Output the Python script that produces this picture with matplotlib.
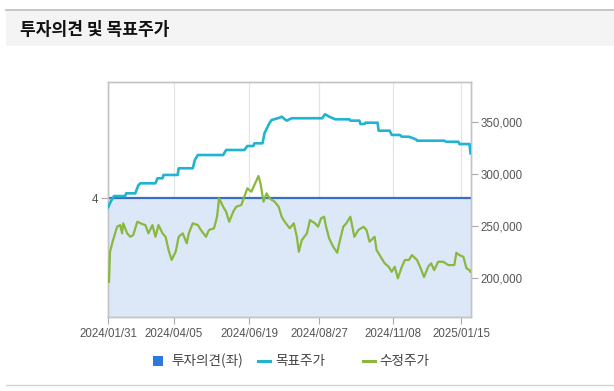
import matplotlib
matplotlib.use("Agg")
import matplotlib.pyplot as plt
from matplotlib.patches import Rectangle
from matplotlib.lines import Line2D
import pandas as pd

# ---------------- data ----------------
title = "투자의견 및 목표주가"
legend_labels = ["투자의견(좌)", "목표주가", "수정주가"]

opinion_dates = ["2024-01-31", "2025-01-24"]
opinion_values = [4, 4]

target_dates = [
    "2024-01-31", "2024-02-03", "2024-02-06", "2024-02-17", "2024-02-18", "2024-02-27",
    "2024-03-01", "2024-03-03", "2024-03-18", "2024-03-20", "2024-03-25", "2024-03-26",
    "2024-04-09", "2024-04-10", "2024-04-24", "2024-04-26", "2024-04-29", "2024-05-24",
    "2024-05-27", "2024-06-14", "2024-06-17", "2024-06-23", "2024-06-24", "2024-07-02",
    "2024-07-04", "2024-07-09", "2024-07-11", "2024-07-19", "2024-07-21", "2024-07-26",
    "2024-07-31", "2024-08-30", "2024-09-02", "2024-09-06", "2024-09-12", "2024-09-26",
    "2024-09-27", "2024-10-06", "2024-10-07", "2024-10-11", "2024-10-12", "2024-10-24",
    "2024-10-25", "2024-11-05", "2024-11-07", "2024-11-15", "2024-11-17", "2024-11-24",
    "2024-12-01", "2024-12-02", "2024-12-29", "2024-12-31", "2025-01-12", "2025-01-13",
    "2025-01-23", "2025-01-24",
]
target_values = [
    268000, 274000, 278800, 278800, 281400, 281400,
    289000, 291000, 291000, 295800, 295800, 299000,
    299000, 305400, 305400, 313300, 318100, 318100,
    322900, 322900, 326700, 326700, 329300, 329300,
    339000, 348800, 351600, 353800, 354800, 351000,
    353300, 353300, 357100, 354800, 352300, 352300,
    351000, 351000, 347800, 347800, 349000, 349000,
    341400, 341400, 337300, 337300, 335600, 335600,
    333100, 331800, 331800, 330800, 330800, 328600,
    328600, 319700,
]

price_dates = [
    "2024-02-01", "2024-02-02", "2024-02-05", "2024-02-09", "2024-02-12", "2024-02-14",
    "2024-02-15", "2024-02-19", "2024-02-22", "2024-02-25", "2024-02-29", "2024-03-05",
    "2024-03-08", "2024-03-11", "2024-03-15", "2024-03-18", "2024-03-21", "2024-03-25",
    "2024-03-28", "2024-03-31", "2024-04-03", "2024-04-07", "2024-04-10", "2024-04-14",
    "2024-04-18", "2024-04-20", "2024-04-24", "2024-04-29", "2024-05-02", "2024-05-07",
    "2024-05-10", "2024-05-15", "2024-05-18", "2024-05-20", "2024-05-24", "2024-05-27",
    "2024-05-30", "2024-06-03", "2024-06-06", "2024-06-11", "2024-06-14", "2024-06-17",
    "2024-06-21", "2024-06-24", "2024-06-28", "2024-06-30", "2024-07-03", "2024-07-06",
    "2024-07-09", "2024-07-14", "2024-07-18", "2024-07-21", "2024-07-24", "2024-07-29",
    "2024-08-02", "2024-08-05", "2024-08-07", "2024-08-10", "2024-08-15", "2024-08-18",
    "2024-08-23", "2024-08-26", "2024-08-29", "2024-09-01", "2024-09-03", "2024-09-06",
    "2024-09-10", "2024-09-14", "2024-09-16", "2024-09-20", "2024-09-23", "2024-09-27",
    "2024-10-01", "2024-10-05", "2024-10-10", "2024-10-13", "2024-10-16", "2024-10-21",
    "2024-10-23", "2024-10-28", "2024-10-31", "2024-11-04", "2024-11-07", "2024-11-10",
    "2024-11-13", "2024-11-17", "2024-11-20", "2024-11-24", "2024-11-27", "2024-12-02",
    "2024-12-05", "2024-12-09", "2024-12-13", "2024-12-16", "2024-12-19", "2024-12-23",
    "2024-12-28", "2025-01-02", "2025-01-08", "2025-01-10", "2025-01-13", "2025-01-17",
    "2025-01-20", "2025-01-23", "2025-01-24",
]
price_values = [
    196700, 225500, 236700, 249400, 251000, 243100,
    252700, 243100, 239800, 241500, 254200, 252000,
    251000, 243100, 251000, 239800, 251000, 243100,
    239800, 227100, 217600, 225500, 239800, 243100,
    233500, 243100, 252700, 251000, 246300, 239800,
    246300, 247900, 259000, 276600, 268600, 263800,
    254200, 263800, 268600, 270200, 278200, 286200,
    283000, 289400, 298000, 291000, 273400, 281400,
    276600, 273400, 268600, 259000, 254200, 247900,
    252700, 239800, 225500, 236700, 243100, 255800,
    252700, 249400, 257500, 259000, 249400, 238300,
    230300, 224500, 233500, 249400, 252700, 259000,
    239800, 246300, 249400, 246300, 235100, 239800,
    227100, 219100, 214400, 211100, 206300, 211100,
    200000, 211100, 217600, 217600, 222300, 217600,
    211100, 201300, 211100, 214400, 207900, 215900,
    215900, 212700, 212700, 224500, 222300, 220600,
    209600, 207900, 206300,
]

xtick_dates = ["2024-01-31", "2024-04-05", "2024-06-19", "2024-08-27", "2024-11-08", "2025-01-15"]
price_ticks = [200000, 250000, 300000, 350000]
opinion_ticks = [4]

# ---------------- figure ----------------
W, H = 614, 391
fig = plt.figure(figsize=(W / 100, H / 100), dpi=100)
fig.patch.set_facecolor("white")

KR = ["Noto Sans CJK KR", "DejaVu Sans"]
NUM = ["Liberation Sans", "DejaVu Sans"]

def px(x, y):
    return x / W, 1 - y / H

# header band and rules
fig.patches.append(Rectangle(px(6, 46), (W - 6) / W, 36 / H, transform=fig.transFigure,
                             facecolor="#f4f4f4", edgecolor="none", zorder=0))
fig.lines.append(Line2D([6 / W, 1], [1 - 9.5 / H] * 2, transform=fig.transFigure,
                        color="#bdbdbd", lw=1.2))
fig.lines.append(Line2D([6 / W, 1], [1 - 385 / H] * 2, transform=fig.transFigure,
                        color="#d4d4d4", lw=1.0))
tx, ty = px(20, 30)
fig.text(tx, ty, title, family=KR, fontsize=12.3, fontweight="bold", color="#111111",
         va="center", ha="left")

# axes
left, right, top, bottom = 108, 470.5, 82, 317
ax = fig.add_axes([left / W, 1 - bottom / H, (right - left) / W, (bottom - top) / H])
ax2 = ax.twinx()

od = pd.to_datetime(opinion_dates)
td = pd.to_datetime(target_dates)
pdts = pd.to_datetime(price_dates)

ax.fill_between(od, 0, opinion_values, color="#dce8f8", lw=0, zorder=1)
ax.plot(od, opinion_values, color="#3a6ec2", lw=1.6, zorder=3, solid_capstyle="butt")
ax.set_ylim(0, 7.9)
ax.set_xlim(pd.Timestamp("2024-01-31"), pd.Timestamp("2025-01-24"))
ax.set_yticks(opinion_ticks)
ax.set_yticklabels([str(v) for v in opinion_ticks], family=NUM, fontsize=8.3, color="#555555")

xt = pd.to_datetime(xtick_dates)
ax.set_xticks(xt)
ax.set_xticklabels([d.strftime("%Y/%m/%d") for d in xt], family=NUM, fontsize=8.3, color="#555555")
ax.grid(axis="x", color="#e2e4e8", lw=0.9, zorder=0)
ax.set_axisbelow(True)

ax2.plot(pdts, price_values, color="#8ab83f", lw=1.6, zorder=4, solid_joinstyle="round")
ax2.plot(td, target_values, color="#1fb4d0", lw=1.9, zorder=5, solid_joinstyle="round")
ax2.set_ylim(163000, 388000)
ax2.set_yticks(price_ticks)
ax2.set_yticklabels([f"{v:,}" for v in price_ticks], family=NUM, fontsize=8.3, color="#555555")
ax2.set_xlim(pd.Timestamp("2024-01-31"), pd.Timestamp("2025-01-24"))

for a in (ax, ax2):
    for s in a.spines.values():
        s.set_color("#c4c4c4")
        s.set_linewidth(1.0)
    a.tick_params(colors="#aaaaaa", length=5, width=0.8, pad=2)
    a.tick_params(axis="both", labelcolor="#555555")
ax.tick_params(axis="x", pad=3)

# legend (manual)
fig.patches.append(Rectangle(px(153, 366), 10 / W, 10 / H, transform=fig.transFigure,
                             facecolor="#2a78e0", edgecolor="none"))
lx, ly = px(171, 361)
fig.text(lx, ly, legend_labels[0], family=KR, fontsize=9.8, color="#444444", va="center", ha="left")
y_leg = 1 - 361 / H
fig.lines.append(Line2D([258 / W, 270 / W], [y_leg, y_leg], transform=fig.transFigure,
                        color="#1fb4d0", lw=2.2))
fig.text(275 / W, ly, legend_labels[1], family=KR, fontsize=9.8, color="#444444", va="center", ha="left")
fig.lines.append(Line2D([363 / W, 375 / W], [y_leg, y_leg], transform=fig.transFigure,
                        color="#8ab83f", lw=2.2))
fig.text(379 / W, ly, legend_labels[2], family=KR, fontsize=9.8, color="#444444", va="center", ha="left")

fig.savefig("out.png", dpi=100)
